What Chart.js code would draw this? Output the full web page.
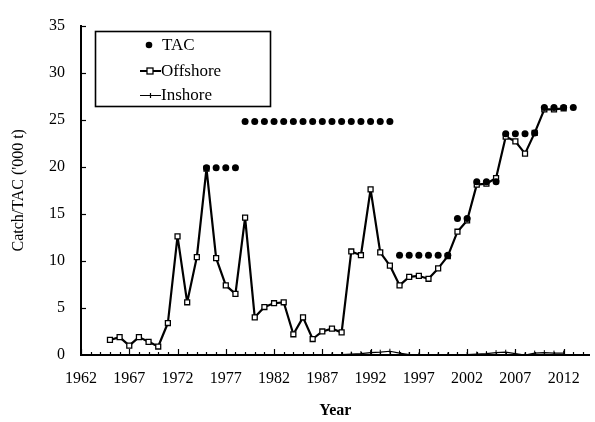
<!DOCTYPE html>
<html lang="en">
<head>
  <meta charset="UTF-8" />
  <title>Catch and TAC</title>
  <style>
    html, body { margin: 0; padding: 0; background: #fff; }
    .wrap { width: 595px; height: 422px; }
  </style>
</head>
<body>
  <div class="wrap">
    <canvas id="myCanvas" width="595" height="422"></canvas>
  </div>

  <script src="https://cdn.jsdelivr.net/npm/chart.js"></script>
  <script>
    // values ('000 t)
    const offshoreYears = [1965, 1966, 1967, 1968, 1969, 1970, 1971, 1972, 1973, 1974,
      1975, 1976, 1977, 1978, 1979, 1980, 1981, 1982, 1983, 1984, 1985, 1986, 1987, 1988,
      1989, 1990, 1991, 1992, 1993, 1994, 1995, 1996, 1997, 1998, 1999, 2000, 2001, 2002,
      2003, 2004, 2005, 2006, 2007, 2008, 2009, 2010, 2011, 2012];
    const offshoreCatch = [1.6, 1.9, 1.0, 1.9, 1.4, 0.9, 3.4, 12.6, 5.6, 10.4,
      19.8, 10.3, 7.4, 6.5, 14.6, 4.0, 5.1, 5.5, 5.6, 2.2, 4.0, 1.7, 2.5, 2.8,
      2.4, 11.0, 10.6, 17.6, 10.9, 9.5, 7.4, 8.3, 8.4, 8.1, 9.2, 10.5, 13.1, 14.3,
      18.1, 18.2, 18.8, 23.2, 22.7, 21.4, 23.6, 26.1, 26.1, 26.2];

    const inshoreYears = [1988, 1989, 1990, 1991, 1992, 1993, 1994, 1995, 1996, 1997,
      1998, 1999, 2000, 2001, 2002, 2003, 2004, 2005, 2006, 2007, 2008, 2009, 2010, 2011, 2012];
    const inshoreCatch = [0.0, 0.05, 0.1, 0.15, 0.25, 0.3, 0.4, 0.2, 0.05, 0.0,
      0.0, 0.0, 0.0, 0.05, 0.05, 0.1, 0.15, 0.25, 0.3, 0.15, 0.0, 0.2, 0.25, 0.2, 0.2];

    const tacYears = [1975, 1976, 1977, 1978, 1979, 1980, 1981, 1982, 1983, 1984, 1985,
      1986, 1987, 1988, 1989, 1990, 1991, 1992, 1993, 1994, 1995, 1996, 1997, 1998, 1999,
      2000, 2001, 2002, 2003, 2004, 2005, 2006, 2007, 2008, 2009, 2010, 2011, 2012, 2013];
    const tacValues = [19.9, 19.9, 19.9, 19.9, 24.8, 24.8, 24.8, 24.8, 24.8, 24.8, 24.8,
      24.8, 24.8, 24.8, 24.8, 24.8, 24.8, 24.8, 24.8, 24.8, 10.6, 10.6, 10.6, 10.6, 10.6,
      10.6, 14.5, 14.5, 18.4, 18.4, 18.4, 23.5, 23.5, 23.5, 23.6, 26.3, 26.3, 26.3, 26.3];

    const yearLabels = [1962, 1967, 1972, 1977, 1982, 1987, 1992, 1997, 2002, 2007, 2012];

    const serif = "'Liberation Serif', 'DejaVu Serif', serif";

    function pairs(xs, ys) {
      return xs.map((x, i) => ({ x: x, y: ys[i] }));
    }

    // inward tick marks + boxed legend
    const figureBits = {
      id: "figureBits",
      afterDraw(chart) {
        const ctx = chart.ctx;
        const area = chart.chartArea;
        const xs = chart.scales.x;
        const ys = chart.scales.y;
        ctx.save();
        ctx.strokeStyle = "#000";
        ctx.lineWidth = 1.2;
        for (let yr = 1962; yr <= 2014; yr++) {
          const px = Math.round(xs.getPixelForValue(yr)) + 0.5;
          const len = (yr - 1962) % 5 === 0 ? 6 : 3;
          ctx.beginPath();
          ctx.moveTo(px, area.bottom);
          ctx.lineTo(px, area.bottom - len);
          ctx.stroke();
        }
        for (let v = 5; v <= 35; v += 5) {
          const py = Math.round(ys.getPixelForValue(v)) + 0.5;
          ctx.beginPath();
          ctx.moveTo(area.left, py);
          ctx.lineTo(area.left + 5, py);
          ctx.stroke();
        }

        // legend
        ctx.lineWidth = 1.6;
        ctx.strokeRect(95.5, 31.5, 175, 75);
        ctx.font = "17px " + serif;
        ctx.fillStyle = "#000";
        ctx.textBaseline = "middle";

        ctx.beginPath();
        ctx.arc(149, 45, 3.3, 0, Math.PI * 2);
        ctx.fill();
        ctx.fillText("TAC", 162, 46);

        ctx.lineWidth = 2;
        ctx.beginPath();
        ctx.moveTo(140, 71);
        ctx.lineTo(161, 71);
        ctx.stroke();
        ctx.fillStyle = "#fff";
        ctx.fillRect(147, 68, 6, 6);
        ctx.lineWidth = 1.3;
        ctx.strokeRect(147, 68, 6, 6);
        ctx.fillStyle = "#000";
        ctx.fillText("Offshore", 161, 72);

        ctx.lineWidth = 1.2;
        ctx.beginPath();
        ctx.moveTo(140, 95.5);
        ctx.lineTo(161, 95.5);
        ctx.moveTo(150.5, 93);
        ctx.lineTo(150.5, 98);
        ctx.stroke();
        ctx.fillText("Inshore", 161, 96);
        ctx.restore();
      }
    };

    new Chart(document.getElementById("myCanvas"), {
      type: "line",
      data: {
        datasets: [
          {
            label: "TAC",
            data: pairs(tacYears, tacValues),
            showLine: false,
            pointStyle: "circle",
            pointRadius: 3.5,
            pointBackgroundColor: "#000",
            pointBorderColor: "#000",
            pointBorderWidth: 0
          },
          {
            label: "Offshore",
            data: pairs(offshoreYears, offshoreCatch),
            borderColor: "#000",
            borderWidth: 2.2,
            borderJoinStyle: "round",
            pointStyle: "rect",
            pointRadius: 3.5,
            pointBackgroundColor: "#fff",
            pointBorderColor: "#000",
            pointBorderWidth: 1.3
          },
          {
            label: "Inshore",
            data: pairs(inshoreYears, inshoreCatch),
            borderColor: "#000",
            borderWidth: 1.2,
            borderJoinStyle: "round",
            pointStyle: "line",
            rotation: 90,
            pointRadius: 2.5,
            pointBorderColor: "#000",
            pointBorderWidth: 1
          }
        ]
      },
      options: {
        responsive: false,
        animation: false,
        layout: { padding: { top: 22, right: 2, left: 0, bottom: 0 } },
        plugins: {
          legend: { display: false },
          tooltip: { enabled: false }
        },
        scales: {
          x: {
            type: "linear",
            min: 1962,
            max: 2014.7,
            afterFit: s => { s.height = 67; },
            afterBuildTicks: s => { s.ticks = yearLabels.map(v => ({ value: v })); },
            grid: { display: false, drawTicks: false },
            border: { display: true, color: "#000", width: 2 },
            ticks: {
              color: "#000",
              font: { family: serif, size: 16 },
              padding: 14,
              maxRotation: 0,
              callback: v => String(v)
            },
            title: {
              display: true,
              text: "Year",
              color: "#000",
              font: { family: serif, size: 16, weight: "bold" },
              padding: { top: 0, bottom: 2 }
            }
          },
          y: {
            min: 0,
            max: 35,
            afterFit: s => { s.width = 81; },
            grid: { display: false, drawTicks: false },
            border: { display: true, color: "#000", width: 2 },
            ticks: {
              stepSize: 5,
              color: "#000",
              font: { family: serif, size: 16 },
              padding: 16
            },
            title: {
              display: true,
              text: "Catch/TAC ('000 t)",
              color: "#000",
              font: { family: serif, size: 16 },
              padding: { top: 9, bottom: 0 }
            }
          }
        }
      },
      plugins: [figureBits]
    });
  </script>
</body>
</html>
